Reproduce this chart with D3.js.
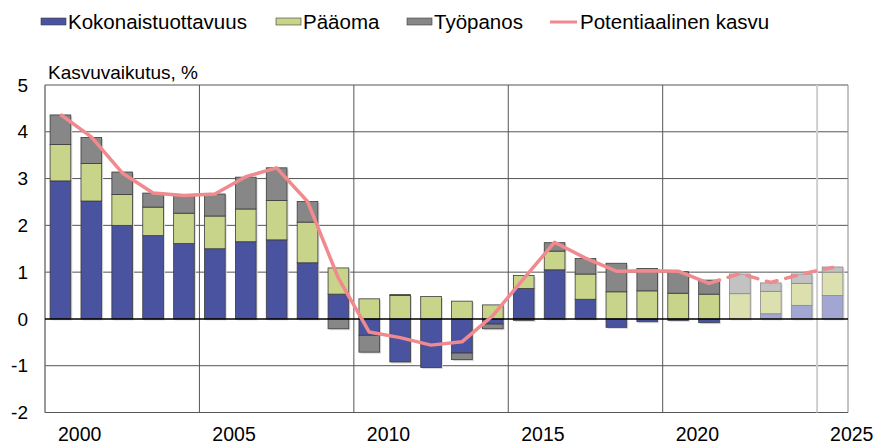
<!DOCTYPE html>
<html>
<head>
<meta charset="utf-8">
<script src="https://cdn.jsdelivr.net/npm/d3@7"></script>
<style>
  body { margin: 0; background: #fff; }
  text { font-family: "Liberation Sans", Arial, sans-serif; fill: #000; }
</style>
</head>
<body>
<div id="chart"></div>
<script>
// categories and series (percentage points)
var years = d3.range(2000, 2026);
var tickYears = [2000, 2005, 2010, 2015, 2020, 2025];
var yTicks = [-2, -1, 0, 1, 2, 3, 4, 5];
var forecastFrom = 2022;   // faded bars from this year on
var dashFrom = 2021;       // dashed line from this year on

var productivity = [2.95, 2.52, 2.00, 1.78, 1.61, 1.50, 1.65, 1.69, 1.20, 0.53,
    -0.35, -0.92, -1.04, -0.73, -0.11, 0.65, 1.05, 0.42, -0.18, -0.06,
    -0.03, -0.08, 0.00, 0.11, 0.29, 0.50];
var capital = [0.78, 0.80, 0.66, 0.61, 0.65, 0.70, 0.70, 0.84, 0.87, 0.56,
    0.43, 0.50, 0.48, 0.38, 0.30, 0.28, 0.40, 0.54, 0.58, 0.60,
    0.55, 0.53, 0.54, 0.48, 0.47, 0.50];
var labour = [0.63, 0.56, 0.48, 0.30, 0.39, 0.47, 0.68, 0.70, 0.44, -0.21,
    -0.36, 0.02, 0.00, -0.14, -0.10, -0.03, 0.18, 0.33, 0.61, 0.48,
    0.46, 0.30, 0.42, 0.18, 0.20, 0.11];
var potential = [4.37, 3.89, 3.12, 2.69, 2.64, 2.67, 3.04, 3.23, 2.51, 0.87,
    -0.28, -0.40, -0.56, -0.49, 0.07, 0.86, 1.64, 1.30, 1.02, 1.03,
    1.02, 0.76, 0.97, 0.78, 0.96, 1.10];

var keys = ["Kokonaistuottavuus", "Pääoma", "Työpanos"];
var colors = {"Kokonaistuottavuus": "#4a53a0", "Pääoma": "#c8d48a", "Työpanos": "#878787"};
var fadedColors = {"Kokonaistuottavuus": "#a1a6d3", "Pääoma": "#dbe0ae", "Työpanos": "#c2c2c2"};
var lineColor = "#f08a8e";

var width = 876, height = 446;
var plot = {left: 45, right: 848, top: 85, bottom: 412.5};

var svg = d3.select("#chart")
    .append("svg")
    .attr("width", width)
    .attr("height", height);

var data = years.map(function (yr, i) {
    return {year: yr, "Kokonaistuottavuus": productivity[i], "Pääoma": capital[i],
        "Työpanos": labour[i], potential: potential[i]};
});

var x = d3.scaleBand()
    .domain(years)
    .range([plot.left, plot.right])
    .paddingInner(0.33)
    .paddingOuter(0.165);

var y = d3.scaleLinear()
    .domain([-2, 5])
    .range([plot.bottom, plot.top]);

var gap = (x.step() - x.bandwidth()) / 2;

// horizontal gridlines
svg.append("g")
    .selectAll("line")
    .data(yTicks.filter(function (d) { return d !== 0; }))
    .enter().append("line")
    .attr("x1", plot.left)
    .attr("x2", plot.right)
    .attr("y1", function (d) { return y(d); })
    .attr("y2", function (d) { return y(d); })
    .attr("stroke", "#555")
    .attr("stroke-width", 1);

// vertical gridlines every five years
svg.append("g")
    .selectAll("line")
    .data(tickYears)
    .enter().append("line")
    .attr("x1", function (d) { return x(d) - gap; })
    .attr("x2", function (d) { return x(d) - gap; })
    .attr("y1", plot.top)
    .attr("y2", plot.bottom)
    .attr("stroke", function (d) { return d === 2025 ? "#cfcfcf" : "#555"; })
    .attr("stroke-width", function (d) { return d === 2025 ? 2 : 1; });

// frame
svg.append("line")
    .attr("x1", plot.left).attr("x2", plot.left)
    .attr("y1", plot.top).attr("y2", plot.bottom)
    .attr("stroke", "#888");
svg.append("line")
    .attr("x1", plot.right).attr("x2", plot.right)
    .attr("y1", plot.top).attr("y2", plot.bottom)
    .attr("stroke", "#888");

// stacked bars
var stacked = d3.stack()
    .keys(keys)
    .offset(d3.stackOffsetDiverging)(data);

var segments = [];
stacked.forEach(function (layer) {
    layer.forEach(function (p) {
        segments.push({key: layer.key, year: p.data.year, y0: p[0], y1: p[1]});
    });
});

// soft shadow behind every segment, drawn first so it never covers a bar
svg.append("g")
    .selectAll("rect")
    .data(segments)
    .enter().append("rect")
    .attr("x", function (d) { return x(d.year) + 1.5; })
    .attr("y", function (d) { return y(Math.max(d.y0, d.y1)) + 1.5; })
    .attr("width", x.bandwidth())
    .attr("height", function (d) { return Math.abs(y(d.y0) - y(d.y1)); })
    .attr("fill", "#d9d9d9");

svg.append("g")
    .selectAll("rect")
    .data(segments)
    .enter().append("rect")
    .attr("x", function (d) { return x(d.year); })
    .attr("y", function (d) { return y(Math.max(d.y0, d.y1)); })
    .attr("width", x.bandwidth())
    .attr("height", function (d) { return Math.abs(y(d.y0) - y(d.y1)); })
    .attr("fill", function (d) {
        return d.year >= forecastFrom ? fadedColors[d.key] : colors[d.key];
    })
    .attr("stroke", function (d) {
        if (Math.abs(d.y1 - d.y0) < 0.005) return "none";
        return d.year >= forecastFrom ? "#8a8a8a" : "#3c3c3c";
    })
    .attr("stroke-width", 0.8);

// zero line
svg.append("line")
    .attr("x1", plot.left).attr("x2", plot.right)
    .attr("y1", y(0)).attr("y2", y(0))
    .attr("stroke", "#000")
    .attr("stroke-width", 1.5);

// potential growth line
var line = d3.line()
    .x(function (d) { return x(d.year) + x.bandwidth() / 2; })
    .y(function (d) { return y(d.potential); });

svg.append("path")
    .datum(data.filter(function (d) { return d.year <= dashFrom; }))
    .attr("d", line)
    .attr("fill", "none")
    .attr("stroke", lineColor)
    .attr("stroke-width", 3.5)
    .attr("stroke-linejoin", "round");

svg.append("path")
    .datum(data.filter(function (d) { return d.year >= dashFrom; }))
    .attr("d", line)
    .attr("fill", "none")
    .attr("stroke", lineColor)
    .attr("stroke-width", 3.5)
    .attr("stroke-linecap", "round")
    .attr("stroke-dasharray", "11,9");

// y axis labels
svg.append("g")
    .selectAll("text")
    .data(yTicks)
    .enter().append("text")
    .attr("x", 28)
    .attr("y", function (d) { return y(d); })
    .attr("dy", "0.35em")
    .attr("text-anchor", "end")
    .attr("font-size", "19px")
    .text(function (d) { return d < 0 ? "-" + Math.abs(d) : d; });

// x axis labels (start at the category centre, as in the original)
svg.append("g")
    .selectAll("text")
    .data(tickYears)
    .enter().append("text")
    .attr("x", function (d) { return x(d) + x.bandwidth() / 2 - 2.5; })
    .attr("y", 441)
    .attr("text-anchor", "start")
    .attr("font-size", "19.5px")
    .text(function (d) { return d; });

// axis title
svg.append("text")
    .attr("x", 48)
    .attr("y", 79)
    .attr("font-size", "19px")
    .text("Kasvuvaikutus, %");

// legend
var legendItems = [
    {name: "Kokonaistuottavuus", x: 41, type: "rect"},
    {name: "Pääoma", x: 276, type: "rect"},
    {name: "Työpanos", x: 407, type: "rect"},
    {name: "Potentiaalinen kasvu", x: 550, type: "line"}
];

var legend = svg.append("g")
    .selectAll("g")
    .data(legendItems)
    .enter().append("g")
    .attr("transform", function (d) { return "translate(" + d.x + ",0)"; });

legend.filter(function (d) { return d.type === "rect"; })
    .append("rect")
    .attr("x", 0)
    .attr("y", 18)
    .attr("width", 25)
    .attr("height", 7)
    .attr("fill", function (d) { return colors[d.name]; })
    .attr("stroke", "#3c3c3c")
    .attr("stroke-width", 0.6);

legend.filter(function (d) { return d.type === "line"; })
    .append("line")
    .attr("x1", 0)
    .attr("x2", 27)
    .attr("y1", 22)
    .attr("y2", 22)
    .attr("stroke", lineColor)
    .attr("stroke-width", 3);

legend.append("text")
    .attr("x", function (d) { return d.type === "line" ? 30 : 27; })
    .attr("y", 29)
    .attr("font-size", "20.5px")
    .text(function (d) { return d.name; });
</script>
</body>
</html>
